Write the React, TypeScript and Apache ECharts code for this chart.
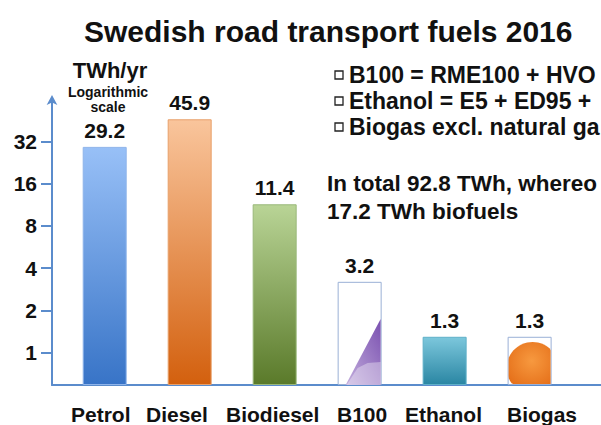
import React, { useEffect, useRef } from "react";
import * as echarts from "echarts";

const chartTitle = "Swedish road transport fuels 2016";
const categories = ["Petrol", "Diesel", "Biodiesel", "B100", "Ethanol", "Biogas"];
const values = [29.2, 45.9, 11.4, 3.2, 1.3, 1.3];
const yTicks = [1, 2, 4, 8, 16, 32];
const unitLabel = "TWh/yr";
const scaleNote = ["Logarithmic", "scale"];
// visible part of the (cropped) notes in the reference
const notes = ["B100 = RME100 + HVO", "Ethanol = E5 + ED95 +", "Biogas excl. natural ga"];
const summary = ["In total 92.8 TWh, whereo", "17.2 TWh biofuels"];

const FONT = "'Liberation Sans', Arial, Helvetica, sans-serif";
const BAR_W = 44;
const Y_MIN = 0.59;
const Y_MAX = 64;
const AXIS_COLOR = "#5b8ccc";

const fills = [
  ["#98c0f7", "#3874c7"],
  ["#f9c59c", "#d3600e"],
  ["#b9d496", "#5a7a2a"],
  ["#ffffff", "#ffffff"],
  ["#7cc7dc", "#2a86a3"],
  ["#ffffff", "#ffffff"],
];
const borders = ["#8fb4ea", "#e8a06a", "#9ab87a", "#9ab0d6", "#5fb0c8", "#9ab0d6"];
const labelLeft = [71, 146, 226, 337, 405, 507];
const decorated = [3, 5];

function renderDecoration(params: any, api: any) {
  const x = api.value(0);
  const v = api.value(1);
  const top = api.coord([x, v]);
  const bot = api.coord([x, Y_MIN]);
  const l = top[0] - BAR_W / 2;
  const r = top[0] + BAR_W / 2;
  const t = top[1];
  const b = bot[1];
  const h = b - t;
  if (x === 3) {
    return {
      type: "group",
      children: [
        {
          type: "polygon",
          shape: { points: [[l + 8, b], [r - 1, t + h * 0.36], [r - 1, b]] },
          style: {
            fill: new echarts.graphic.LinearGradient(1, 0, 0, 1, [
              { offset: 0, color: "#7a50b0" },
              { offset: 1, color: "#c3aedd" },
            ]),
          },
        },
        {
          type: "polygon",
          shape: { points: [[l + 9, b], [l + 20, b - 17], [l + 30, b - 22], [r - 1, b - 23], [r - 1, b]] },
          style: { fill: "rgba(255,255,255,0.35)" },
        },
      ],
    };
  }
  const cx = top[0] + 3;
  const cy = b - 17;
  const rad = 26;
  const pts: number[][] = [];
  for (let i = 0; i < 60; i++) {
    const a = (i / 60) * Math.PI * 2;
    const px = Math.min(r - 1, Math.max(l + 1, cx + rad * Math.cos(a)));
    const py = Math.min(b - 1, Math.max(t + 1, cy + rad * Math.sin(a)));
    pts.push([px, py]);
  }
  return {
    type: "polygon",
    shape: { points: pts },
    style: {
      fill: new echarts.graphic.RadialGradient(0.55, 0.45, 0.7, [
        { offset: 0, color: "#f7993f" },
        { offset: 1, color: "#e5701a" },
      ]),
    },
  };
}

export default function App() {
  const ref = useRef<HTMLDivElement>(null);
  useEffect(() => {
    document.body.style.margin = "0";
    const chart = echarts.init(ref.current!, null, { renderer: "svg" });
    const graphics: any[] = [];
    graphics.push({
      type: "text",
      x: 110,
      y: 70,
      style: { text: unitLabel, font: `bold 22px ${FONT}`, fill: "#111", textAlign: "center", textVerticalAlign: "middle" },
    });
    scaleNote.forEach((s, i) => {
      graphics.push({
        type: "text",
        x: 108,
        y: 92 + i * 15,
        style: { text: s, font: `bold 14px ${FONT}`, fill: "#111", textAlign: "center", textVerticalAlign: "middle" },
      });
    });
    notes.forEach((s, i) => {
      const y = 75 + i * 26;
      graphics.push({
        type: "rect",
        shape: { x: 335, y: y - 4, width: 8, height: 8 },
        style: { fill: "#fff", stroke: "#222", lineWidth: 1.3 },
      });
      graphics.push({
        type: "text",
        x: 349,
        y,
        style: { text: s, font: `bold 23px ${FONT}`, fill: "#111", textAlign: "left", textVerticalAlign: "middle" },
      });
    });
    summary.forEach((s, i) => {
      graphics.push({
        type: "text",
        x: 327,
        y: 183 + i * 28,
        style: { text: s, font: `bold 22.5px ${FONT}`, fill: "#111", textAlign: "left", textVerticalAlign: "middle" },
      });
    });
    categories.forEach((c, i) => {
      graphics.push({
        type: "text",
        x: labelLeft[i],
        y: 414,
        style: { text: c, font: `bold 21px ${FONT}`, fill: "#111", textAlign: "left", textVerticalAlign: "middle" },
      });
    });

    chart.setOption({
      animation: false,
      backgroundColor: "#ffffff",
      title: {
        text: chartTitle,
        left: 79,
        top: 11,
        textStyle: { fontFamily: FONT, fontSize: 30, fontWeight: "bold", color: "#111" },
      },
      grid: { left: 52, right: 0, top: 99, bottom: 40 },
      xAxis: {
        type: "value",
        min: -0.62,
        max: 5.84,
        axisLine: { show: true, onZero: false, lineStyle: { color: AXIS_COLOR, width: 2 } },
        axisTick: { show: false },
        axisLabel: { show: false },
        splitLine: { show: false },
      },
      yAxis: {
        type: "log",
        logBase: 2,
        min: Y_MIN,
        max: Y_MAX,
        startValue: Y_MIN,
        axisLine: {
          show: true,
          onZero: false,
          symbol: ["none", "arrow"],
          symbolSize: [8, 10],
          symbolOffset: [0, 4],
          lineStyle: { color: AXIS_COLOR, width: 2 },
        },
        axisTick: { show: true, customValues: yTicks, length: 11, lineStyle: { color: AXIS_COLOR, width: 2 } },
        axisLabel: {
          customValues: yTicks,
          margin: 15,
          formatter: (v: number) => String(v),
          fontFamily: FONT,
          fontSize: 21,
          fontWeight: "bold",
          color: "#111",
        },
        splitLine: { show: false },
      },
      graphic: graphics,
      series: [
        {
          type: "bar",
          barWidth: BAR_W,
          data: values.map((v, i) => ({
            value: [i, v],
            itemStyle: {
              color: new echarts.graphic.LinearGradient(0, 0, 0, 1, [
                { offset: 0, color: fills[i][0] },
                { offset: 1, color: fills[i][1] },
              ]),
              borderColor: borders[i],
              borderWidth: 1,
            },
          })),
          label: {
            show: true,
            position: "top",
            distance: 6,
            formatter: (p: any) => String(p.value[1]),
            fontFamily: FONT,
            fontSize: 21,
            fontWeight: "bold",
            color: "#111",
          },
        },
        {
          type: "custom",
          renderItem: renderDecoration,
          data: decorated.map((i) => [i, values[i]]),
          z: 3,
        },
      ],
    });
    return () => chart.dispose();
  }, []);
  return <div ref={ref} style={{ position: "fixed", left: 0, top: 0, width: 601, height: 425 }} />;
}
